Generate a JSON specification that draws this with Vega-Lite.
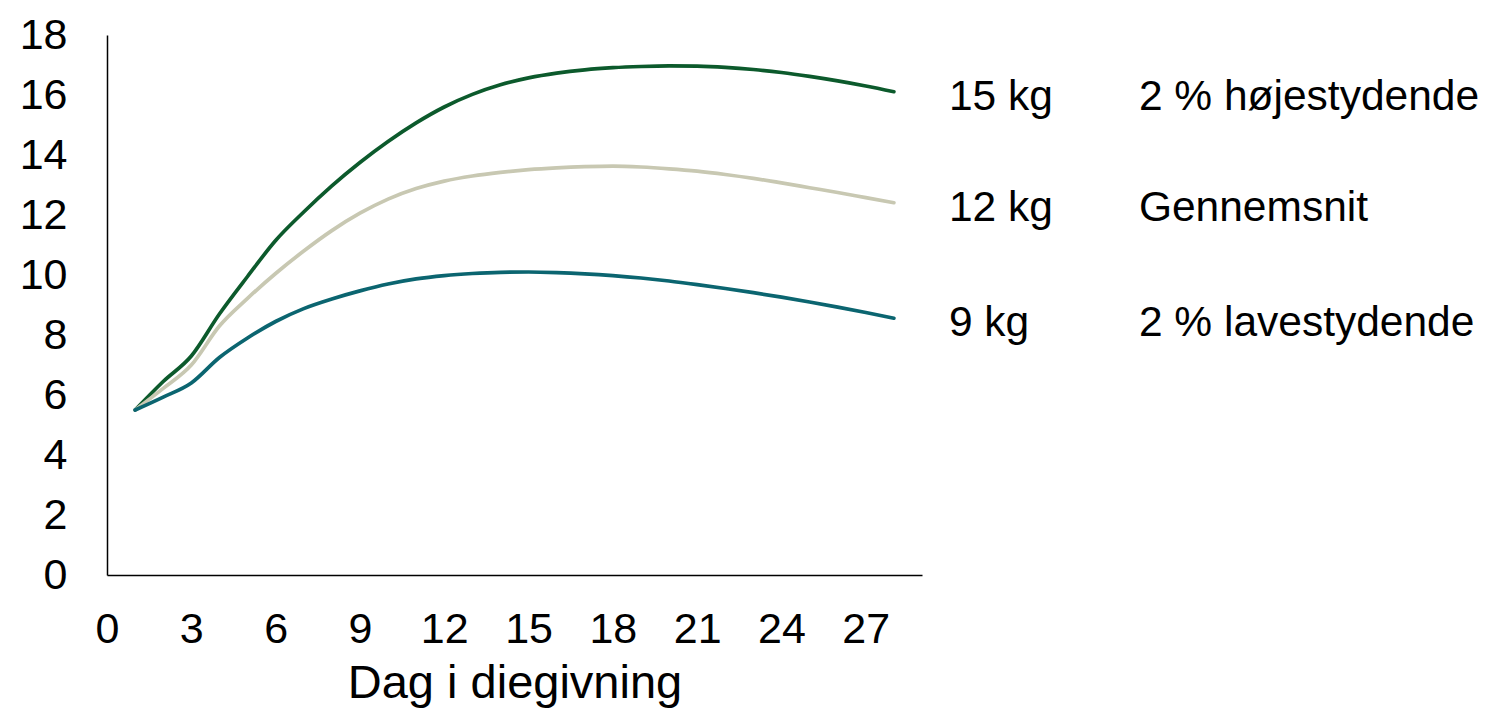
{
  "$schema": "https://vega.github.io/schema/vega-lite/v6.json",
  "width": 815,
  "height": 540,
  "autosize": {"type": "none"},
  "padding": {"left": 107, "top": 35, "right": 566, "bottom": 145},
  "background": "white",
  "config": {
    "font": "Liberation Sans",
    "view": {"stroke": null},
    "axis": {"grid": false, "ticks": false, "domainColor": "#000000", "domainWidth": 1.5, "labelColor": "#000000", "titleColor": "#000000", "labelFont": "Liberation Sans", "titleFont": "Liberation Sans", "titleFontWeight": "normal"}
  },
  "datasets": {
    "curves": [
      {"day": 1, "series": "high", "value": 5.5},
      {"day": 2, "series": "high", "value": 6.45},
      {"day": 3, "series": "high", "value": 7.3},
      {"day": 4, "series": "high", "value": 8.7},
      {"day": 5, "series": "high", "value": 9.95},
      {"day": 6, "series": "high", "value": 11.15},
      {"day": 7, "series": "high", "value": 12.1},
      {"day": 8, "series": "high", "value": 12.97},
      {"day": 9, "series": "high", "value": 13.75},
      {"day": 10, "series": "high", "value": 14.45},
      {"day": 11, "series": "high", "value": 15.07},
      {"day": 12, "series": "high", "value": 15.6},
      {"day": 13, "series": "high", "value": 16.02},
      {"day": 14, "series": "high", "value": 16.34},
      {"day": 15, "series": "high", "value": 16.57},
      {"day": 16, "series": "high", "value": 16.73},
      {"day": 17, "series": "high", "value": 16.84},
      {"day": 18, "series": "high", "value": 16.91},
      {"day": 19, "series": "high", "value": 16.95},
      {"day": 20, "series": "high", "value": 16.97},
      {"day": 21, "series": "high", "value": 16.96},
      {"day": 22, "series": "high", "value": 16.92},
      {"day": 23, "series": "high", "value": 16.85},
      {"day": 24, "series": "high", "value": 16.75},
      {"day": 25, "series": "high", "value": 16.62},
      {"day": 26, "series": "high", "value": 16.47},
      {"day": 27, "series": "high", "value": 16.3},
      {"day": 28, "series": "high", "value": 16.11},
      {"day": 1, "series": "avg", "value": 5.5},
      {"day": 2, "series": "avg", "value": 6.22},
      {"day": 3, "series": "avg", "value": 7.0},
      {"day": 4, "series": "avg", "value": 8.3},
      {"day": 5, "series": "avg", "value": 9.22},
      {"day": 6, "series": "avg", "value": 10.05},
      {"day": 7, "series": "avg", "value": 10.8},
      {"day": 8, "series": "avg", "value": 11.48},
      {"day": 9, "series": "avg", "value": 12.06},
      {"day": 10, "series": "avg", "value": 12.53},
      {"day": 11, "series": "avg", "value": 12.88},
      {"day": 12, "series": "avg", "value": 13.13},
      {"day": 13, "series": "avg", "value": 13.3},
      {"day": 14, "series": "avg", "value": 13.42},
      {"day": 15, "series": "avg", "value": 13.51},
      {"day": 16, "series": "avg", "value": 13.57},
      {"day": 17, "series": "avg", "value": 13.61},
      {"day": 18, "series": "avg", "value": 13.63},
      {"day": 19, "series": "avg", "value": 13.6},
      {"day": 20, "series": "avg", "value": 13.54},
      {"day": 21, "series": "avg", "value": 13.46},
      {"day": 22, "series": "avg", "value": 13.35},
      {"day": 23, "series": "avg", "value": 13.22},
      {"day": 24, "series": "avg", "value": 13.07},
      {"day": 25, "series": "avg", "value": 12.91},
      {"day": 26, "series": "avg", "value": 12.75},
      {"day": 27, "series": "avg", "value": 12.58},
      {"day": 28, "series": "avg", "value": 12.41},
      {"day": 1, "series": "low", "value": 5.5},
      {"day": 2, "series": "low", "value": 5.93},
      {"day": 3, "series": "low", "value": 6.4},
      {"day": 4, "series": "low", "value": 7.25},
      {"day": 5, "series": "low", "value": 7.9},
      {"day": 6, "series": "low", "value": 8.45},
      {"day": 7, "series": "low", "value": 8.88},
      {"day": 8, "series": "low", "value": 9.2},
      {"day": 9, "series": "low", "value": 9.47},
      {"day": 10, "series": "low", "value": 9.7},
      {"day": 11, "series": "low", "value": 9.87},
      {"day": 12, "series": "low", "value": 9.98},
      {"day": 13, "series": "low", "value": 10.05},
      {"day": 14, "series": "low", "value": 10.09},
      {"day": 15, "series": "low", "value": 10.1},
      {"day": 16, "series": "low", "value": 10.08},
      {"day": 17, "series": "low", "value": 10.04},
      {"day": 18, "series": "low", "value": 9.98},
      {"day": 19, "series": "low", "value": 9.9},
      {"day": 20, "series": "low", "value": 9.8},
      {"day": 21, "series": "low", "value": 9.68},
      {"day": 22, "series": "low", "value": 9.55},
      {"day": 23, "series": "low", "value": 9.41},
      {"day": 24, "series": "low", "value": 9.26},
      {"day": 25, "series": "low", "value": 9.1},
      {"day": 26, "series": "low", "value": 8.93},
      {"day": 27, "series": "low", "value": 8.75},
      {"day": 28, "series": "low", "value": 8.56}
    ],
    "labels": [
      {"series": "high", "kg": "15 kg", "desc": "2 % højestydende"},
      {"series": "avg", "kg": "12 kg", "desc": "Gennemsnit"},
      {"series": "low", "kg": "9 kg", "desc": "2 % lavestydende"}
    ]
  },
  "data": {"name": "curves"},
  "encoding": {
    "x": {
      "field": "day",
      "type": "quantitative",
      "scale": {"domain": [0, 29], "nice": false, "zero": false},
      "axis": {"values": [0, 3, 6, 9, 12, 15, 18, 21, 24, 27], "labelFontSize": 43, "labelPadding": 33, "labelFlush": false, "labelOverlap": false, "title": "Dag i diegivning", "titleFontSize": 47, "titlePadding": 9}
    },
    "y": {
      "field": "value",
      "type": "quantitative",
      "scale": {"domain": [0, 18], "nice": false},
      "axis": {"values": [0, 2, 4, 6, 8, 10, 12, 14, 16, 18], "labelFontSize": 43, "labelPadding": 40, "title": null}
    },
    "color": {
      "field": "series",
      "type": "nominal",
      "scale": {"domain": ["high", "avg", "low"], "range": ["#0c5a2c", "#c8c8b2", "#0b6570"]},
      "legend": null
    }
  },
  "layer": [
    {
      "mark": {"type": "line", "interpolate": "monotone", "strokeWidth": 3.7, "strokeCap": "round"}
    },
    {
      "transform": [
        {"filter": "datum.day == 28"},
        {"lookup": "series", "from": {"data": {"name": "labels"}, "key": "series", "fields": ["kg", "desc"]}}
      ],
      "mark": {"type": "text", "align": "left", "baseline": "middle", "dx": 55, "dy": 5, "fontSize": 42.5, "color": "#000000", "clip": false},
      "encoding": {"text": {"field": "kg"}, "color": {"value": "#000000"}}
    },
    {
      "transform": [
        {"filter": "datum.day == 28"},
        {"lookup": "series", "from": {"data": {"name": "labels"}, "key": "series", "fields": ["kg", "desc"]}}
      ],
      "mark": {"type": "text", "align": "left", "baseline": "middle", "dx": 245, "dy": 5, "fontSize": 42.5, "color": "#000000", "clip": false},
      "encoding": {"text": {"field": "desc"}, "color": {"value": "#000000"}}
    }
  ]
}
